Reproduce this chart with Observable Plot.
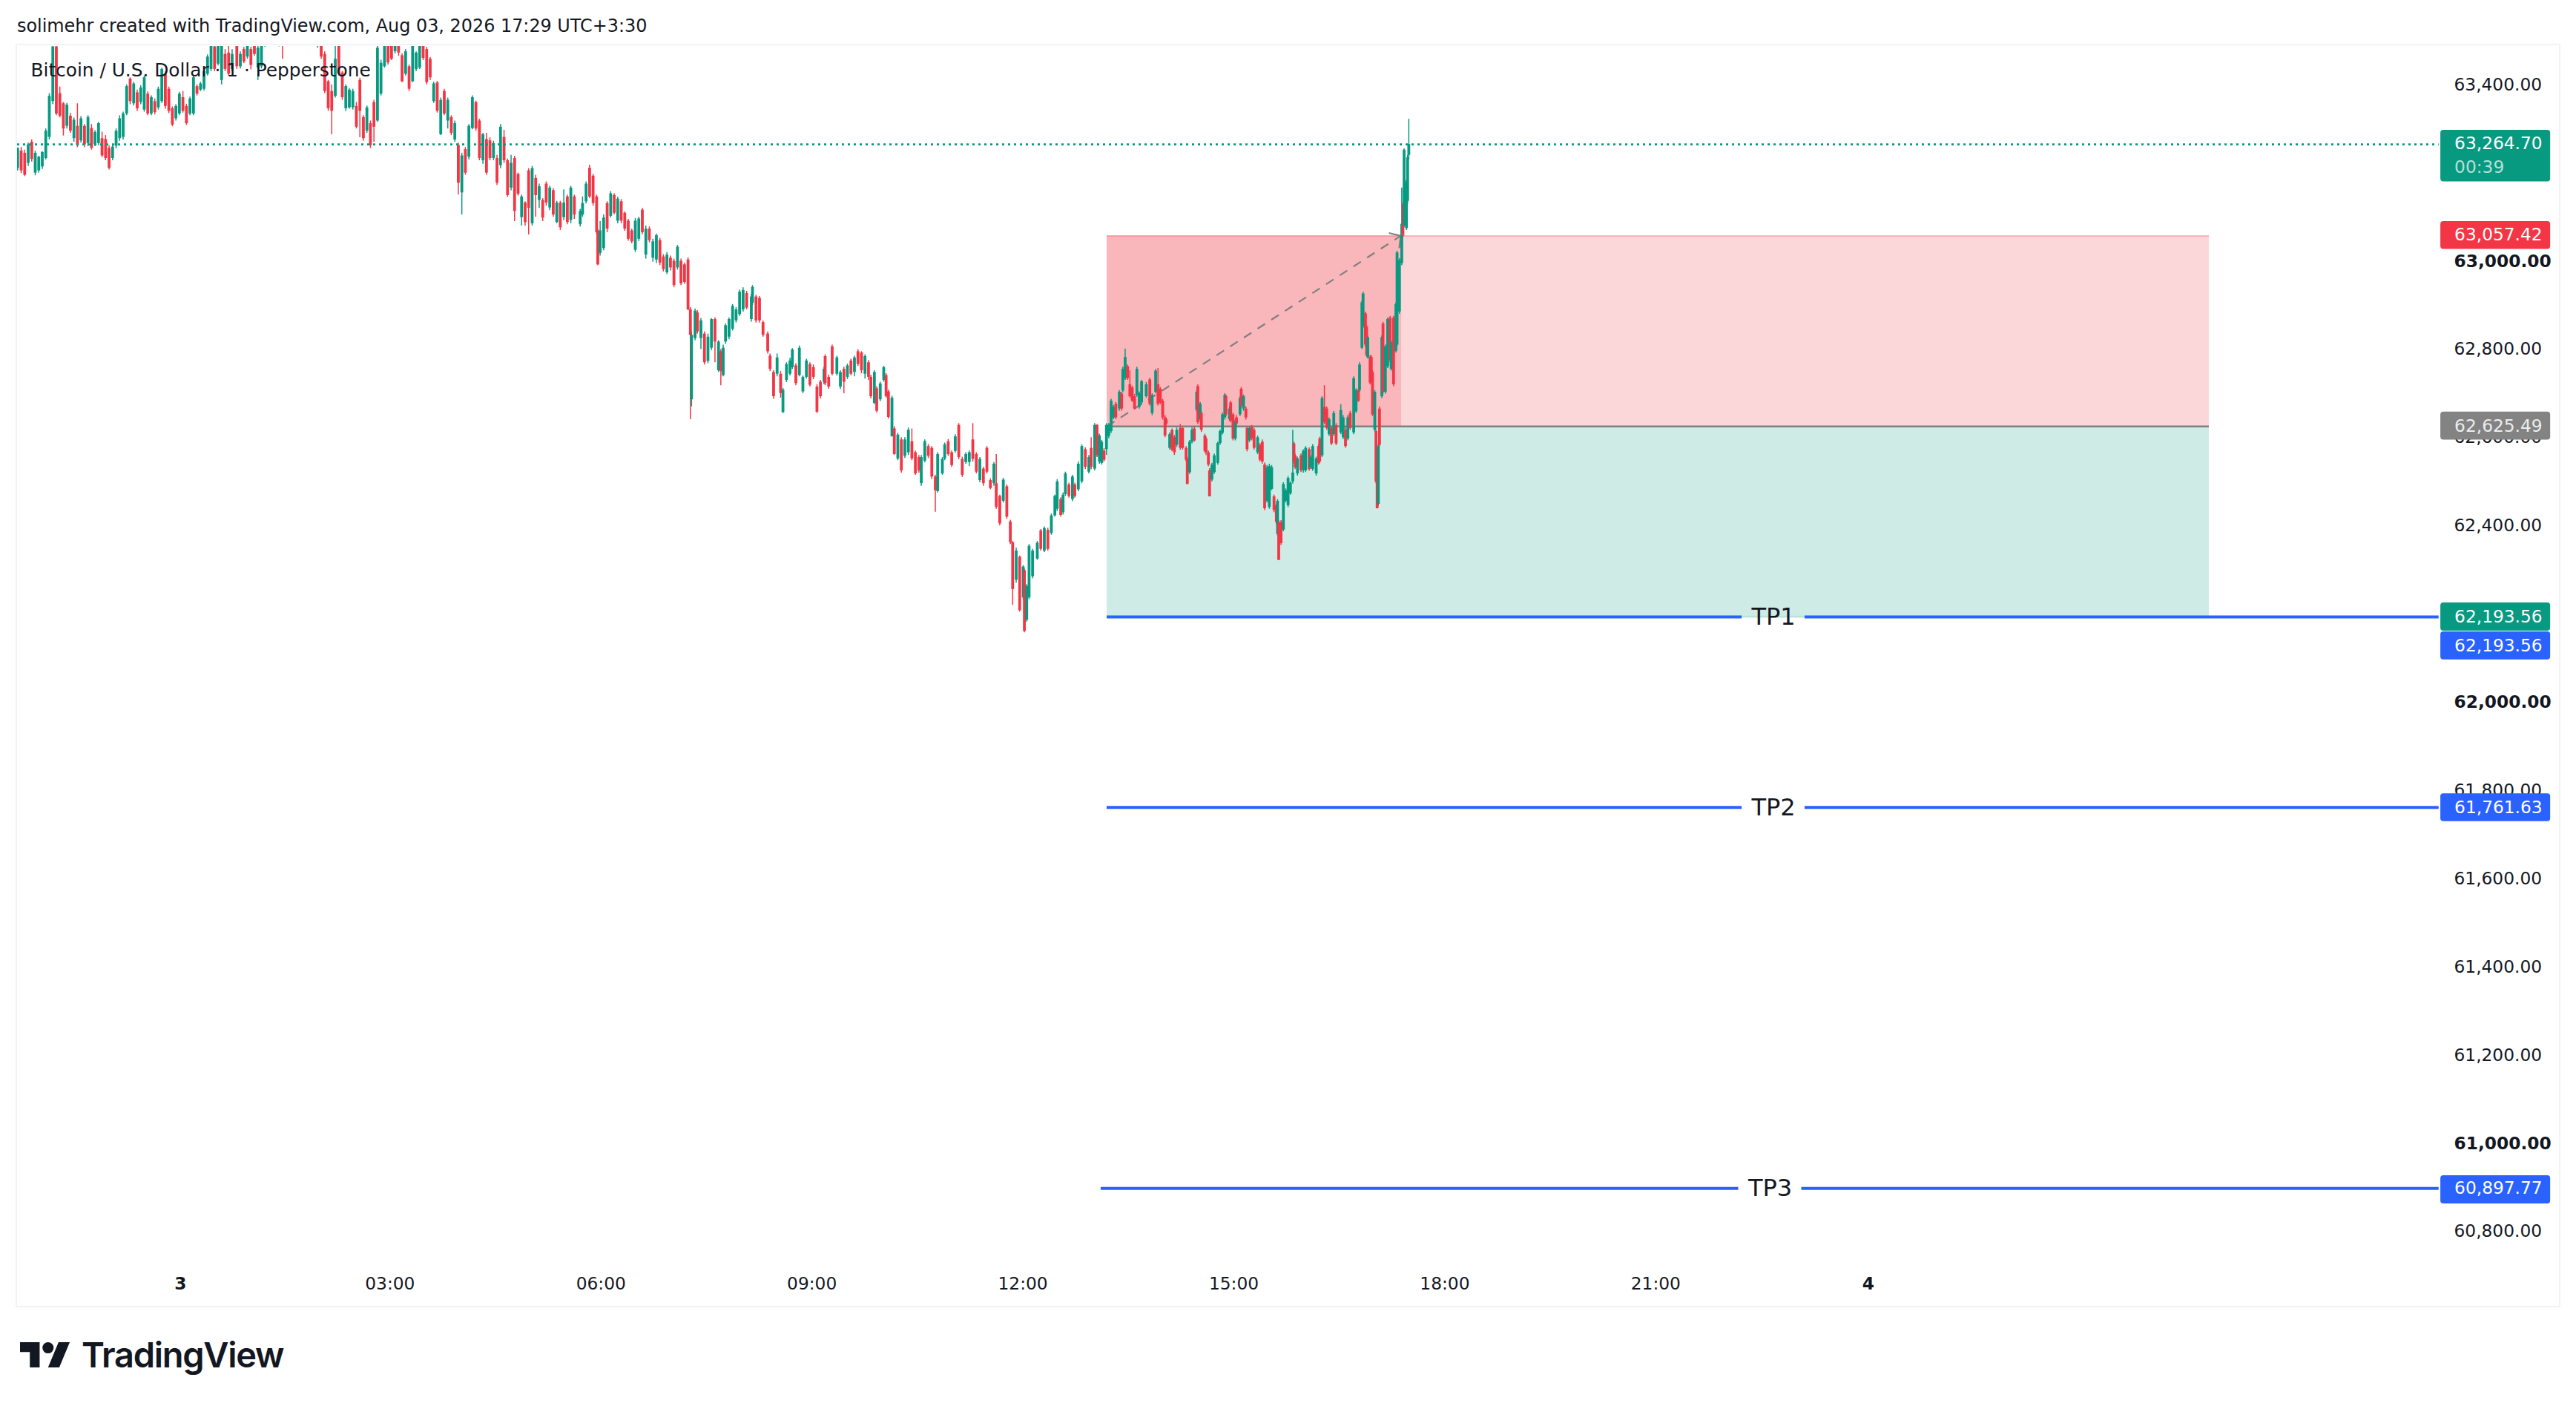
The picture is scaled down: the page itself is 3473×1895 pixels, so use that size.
<!DOCTYPE html>
<html>
<head>
<meta charset="utf-8">
<script src="https://cdn.jsdelivr.net/npm/d3@7"></script>
<script src="https://cdn.jsdelivr.net/npm/@observablehq/plot@0.6"></script>
<style>
html,body{margin:0;padding:0;background:#fff;width:3473px;height:1895px;overflow:hidden;font-family:"DejaVu Sans",sans-serif;color:#131722}
#head{height:60px;box-sizing:border-box;padding-left:23px;font-size:23.9px;line-height:70px;white-space:nowrap}
#box{position:absolute;left:21px;top:59px;width:3427px;height:1699px;border:2px solid #f2f3f4;pointer-events:none}
#foot{position:absolute;left:27px;top:1809px;display:flex;align-items:flex-start}
#foot span{font-family:"Inter",sans-serif;font-weight:600;font-size:47px;line-height:34px;letter-spacing:-1.3px;margin-left:15px;color:#131722}
</style>
</head>
<body>
<div id="head">solimehr created with TradingView.com, Aug 03, 2026 17:29 UTC+3:30</div>
<div id="chart"></div>
<div id="box"></div>
<div id="foot"><svg width="68" height="34" viewBox="0 4 36 18"><path fill="#131722" d="M14 22H7V11H0V4h14v18zM28 22h-8l7.5-18h8L28 22z"/><circle fill="#131722" cx="20" cy="8" r="4"/></svg><span>TradingView</span></div>
<script>
// Candles: [open, close, high, low], one every three minutes, minutes counted from Aug 3 00:00
const nightStart = -139;
const nightBars = [
[63211,63256,63257,63205],[63250,63205,63258,63199],[63245,63195,63252,63192],[63222,63264,63268,63215],[63270,63231,63275,63225],[63200,63245,63250,63194],[63205,63236,63238,63200],[63214,63247,63248,63208],[63233,63295,63300,63230],[63281,63374,63380,63275],
[63362,63486,63495,63355],[63486,63334,63495,63330],[63380,63329,63395,63325],[63357,63300,63360,63284],[63306,63354,63358,63300],[63329,63295,63335,63290],[63278,63320,63325,63270],[63306,63262,63357,63258],[63273,63323,63328,63268],[63306,63264,63310,63258],
[63267,63326,63330,63260],[63301,63256,63310,63252],[63264,63292,63296,63260],[63267,63312,63315,63262],[63278,63239,63293,63235],[63276,63233,63285,63228],[63256,63211,63262,63207],[63233,63259,63262,63228],[63261,63295,63300,63255],[63278,63323,63330,63272],
[63281,63334,63338,63275],[63334,63396,63400,63330],[63413,63362,63416,63355],[63357,63402,63406,63352],[63382,63346,63388,63340],[63360,63393,63398,63355],[63343,63416,63420,63338],[63379,63334,63384,63330],[63334,63371,63375,63330],[63362,63337,63368,63332],
[63348,63390,63395,63343],[63362,63435,63438,63358],[63424,63351,63430,63345],[63390,63340,63395,63335],[63346,63309,63350,63305],[63323,63351,63355,63318],[63334,63379,63383,63330],[63371,63340,63385,63336],[63351,63312,63356,63308],[63334,63368,63372,63330],
[63334,63416,63420,63330],[63396,63379,63400,63375],[63388,63402,63406,63385],[63390,63430,63434,63386],[63424,63463,63468,63420],[63435,63489,63495,63430],[63486,63435,63495,63430],[63447,63489,63495,63443],[63410,63489,63495,63400],[63469,63435,63480,63430],
[63472,63424,63490,63420],[63435,63469,63480,63430]
];
const earlyStart = 48;
const earlyBars = [
[63489,63441,63495,63435],[63441,63469,63475,63436],[63480,63452,63485,63448],[63463,63489,63495,63458],[63480,63444,63485,63434],[63495,63469,63500,63465],[63438,63483,63488,63410],[63441,63489,63495,63436],[63490,63510,63520,63485],[63510,63530,63540,63500],
[63530,63520,63545,63510],[63520,63505,63530,63495],[63495,63515,63525,63486],[63520,63500,63530,63458],[63500,63530,63540,63495],[63530,63550,63565,63520],[63550,63535,63570,63525],[63535,63555,63570,63525],[63555,63540,63575,63530],[63540,63525,63555,63515],
[63525,63545,63555,63515],[63545,63520,63550,63510],[63520,63505,63530,63495],[63489,63510,63515,63483],[63489,63463,63495,63458],[63469,63385,63475,63380],[63407,63346,63410,63340],[63385,63340,63400,63287],[63374,63458,63489,63370],[63489,63424,63495,63420],
[63427,63371,63430,63365],[63346,63396,63400,63340],[63348,63388,63392,63345],[63348,63385,63390,63343],[63351,63304,63360,63300],[63410,63340,63415,63280],[63326,63278,63330,63272],[63295,63348,63352,63290],[63312,63262,63318,63256],[63360,63304,63365,63270],
[63318,63483,63490,63315],[63379,63449,63456,63375],[63441,63489,63495,63438],[63489,63450,63495,63445],[63495,63458,63500,63455],[63475,63495,63510,63470],[63495,63472,63505,63465],[63466,63407,63470,63405],[63424,63475,63480,63420],[63441,63390,63445,63385],
[63407,63489,63495,63405],[63435,63472,63475,63430],[63438,63489,63495,63435],[63489,63460,63495,63455],[63480,63405,63485,63400],[63458,63416,63462,63410],[63362,63402,63406,63358]
];
const morningStart = 219;
const morningBars = [
[63404,63340,63408,63336],[63287,63365,63370,63285],[63385,63334,63390,63330],[63318,63365,63370,63300],[63326,63290,63330,63285],[63275,63312,63318,63270],[63263,63177,63268,63150],[63155,63239,63245,63105],[63253,63200,63258,63195],[63236,63306,63310,63230],
[63301,63371,63375,63298],[63360,63300,63363,63295],[63318,63233,63322,63228],[63228,63287,63290,63220],[63276,63200,63290,63195],[63273,63233,63280,63228],[63233,63267,63272,63228],[63233,63177,63240,63172],[63217,63304,63310,63210],[63281,63228,63297,63222],
[63228,63149,63232,63145],[63166,63222,63240,63160],[63233,63113,63238,63090],[63197,63152,63200,63148],[63099,63146,63150,63080],[63132,63088,63135,63080],[63205,63120,63210,63060],[63085,63210,63215,63080],[63188,63149,63195,63100],[63138,63169,63175,63120],
[63138,63098,63142,63090],[63175,63132,63180,63125],[63121,63166,63170,63115],[63160,63105,63165,63100],[63088,63132,63136,63085],[63132,63076,63136,63070],[63099,63132,63162,63092],[63146,63088,63150,63083],[63093,63166,63170,63085],[63146,63105,63150,63095]
];
// Later candles: [minute, open, close, high, low]
const middayBars = [
[341,63083,63113,63118,63078],[343,63105,63131,63146,63100],[346,63135,63175,63180,63130],[349,63211,63146,63218,63142],[352,63193,63131,63197,63125],[355,63146,63065,63150,63060],[356,63069,62992,63073,62990],[358,63018,63069,63090,63012],[361,63029,63098,63105,63024],[364,63131,63073,63135,63065],
[367,63102,63153,63158,63098],[370,63149,63109,63153,63105],[373,63091,63141,63145,63085],[376,63135,63091,63140,63085],[379,63109,63073,63112,63068],[382,63091,63050,63095,63046],[385,63069,63044,63073,63040],[388,63025,63091,63097,63020],[391,63050,63096,63100,63045],[394,63116,63065,63120,63060],
[397,63014,63073,63080,63005],[400,63073,63047,63078,63042],[403,63007,63044,63050,62998],[406,63003,63058,63062,62995],[409,63047,62996,63052,62990],[412,63010,62981,63015,62976],[415,62974,63014,63020,62970],[418,63007,62985,63012,62978],[421,63000,62945,63005,62940],[424,62985,63032,63036,62980],
[427,63000,62949,63005,62945],[430,62992,62952,62996,62948],[433,63003,62890,63008,62888],[435,62890,62832,62895,62641],[436,62686,62832,62840,62670],[439,62825,62887,62892,62820],[441,62883,62840,62888,62835],[444,62825,62865,62870,62800],[447,62835,62770,62840,62765],[450,62773,62828,62835,62768],
[453,62803,62868,62870,62798],[456,62868,62817,62872,62770],[459,62752,62817,62820,62748],[461,62795,62750,62800,62718],[463,62741,62803,62810,62738],[465,62817,62854,62858,62812],[468,62828,62868,62872,62822],[471,62846,62898,62902,62842],[474,62865,62890,62895,62860],[477,62879,62930,62935,62875],
[480,62890,62934,62940,62885],[483,62927,62894,62932,62890],[487,62868,62919,62925,62862],[488,62905,62941,62945,62900],[491,62919,62865,62923,62860],[494,62916,62865,62920,62860],[497,62861,62832,62865,62828],[501,62835,62795,62840,62790],[503,62785,62755,62790,62750],[506,62748,62693,62752,62687],
[509,62744,62781,62790,62738],[512,62744,62700,62750,62690],[514,62657,62708,62712,62655],[517,62730,62766,62770,62725],[520,62744,62774,62780,62740],[522,62759,62799,62802,62755],[525,62763,62723,62768,62718],[528,62741,62803,62808,62738],[531,62704,62737,62740,62700],[534,62737,62774,62778,62733],
[537,62766,62719,62770,62715],[540,62759,62737,62765,62732],[543,62715,62658,62720,62655],[546,62726,62693,62730,62688],[549,62726,62755,62760,62720],[550,62784,62723,62788,62718],[553,62737,62715,62742,62710],[556,62806,62744,62810,62740],[560,62744,62781,62785,62740],[563,62715,62748,62752,62710],
[566,62755,62726,62760,62700],[569,62737,62763,62767,62732],[572,62774,62744,62778,62740],[575,62748,62781,62785,62738],[578,62795,62766,62800,62762],[581,62792,62752,62795,62745],[584,62744,62784,62788,62733],[587,62770,62737,62775,62730],[589,62737,62693,62742,62688],[592,62678,62748,62752,62675],
[594,62711,62660,62716,62656],[597,62686,62722,62726,62682],[600,62730,62759,62762,62726],[602,62741,62693,62745,62690],[604,62704,62646,62708,62642],[607,62602,62690,62694,62602],[609,62620,62562,62625,62560],[612,62552,62606,62610,62548],[615,62595,62525,62600,62520],[618,62558,62595,62600,62553],
[621,62566,62617,62622,62560],[624,62591,62552,62620,62548],[627,62566,62518,62570,62515],[630,62555,62525,62560,62520],[632,62496,62555,62560,62490],[635,62547,62591,62595,62543],[638,62580,62558,62585,62553],[641,62576,62511,62580,62505],[644,62511,62480,62515,62431],[646,62478,62562,62566,62475],
[650,62518,62551,62555,62515],[652,62552,62584,62588,62548],[655,62591,62562,62596,62558],[658,62566,62537,62570,62533],[661,62569,62602,62607,62565],[664,62628,62555,62632,62550],[667,62551,62515,62556,62510],[670,62544,62562,62566,62540],[673,62544,62566,62570,62535],[676,62595,62551,62632,62545],
[679,62562,62522,62566,62518],[682,62503,62551,62555,62498],[685,62529,62496,62533,62490],[688,62576,62522,62580,62518],[691,62503,62485,62507,62482],[694,62496,62540,62544,62490],[696,62496,62442,62562,62438],[699,62467,62405,62470,62400],[702,62456,62504,62508,62452],[705,62489,62420,62493,62415],
[708,62409,62362,62413,62358],[710,62362,62256,62365,62220],[713,62277,62343,62350,62270],[716,62329,62208,62332,62205],[719,62237,62307,62310,62232],[720,62299,62161,62302,62158],[722,62186,62263,62267,62182],[724,62237,62354,62358,62233],[727,62285,62343,62347,62280],[731,62325,62361,62365,62322],
[734,62389,62347,62392,62343],[737,62343,62394,62398,62340],[740,62390,62347,62395,62343],[743,62383,62423,62427,62379],[746,62423,62467,62470,62420],[748,62438,62500,62505,62433],[751,62460,62424,62464,62420],[753,62430,62470,62475,62425],[755,62471,62518,62522,62467],[758,62493,62467,62497,62463],
[761,62460,62511,62515,62455],[763,62493,62467,62497,62463],[766,62482,62540,62545,62478],[769,62500,62580,62584,62496],[772,62573,62533,62577,62528],[775,62522,62555,62560,62518],[777,62576,62533,62600,62528],[780,62529,62628,62632,62525]
];
const afternoonBars = [
[782,62628,62559,62630,62555],[784,62545,62604,62608,62540],[786,62542,62590,62594,62538],[788,62570,62549,62575,62545],[790,62573,62628,62632,62560],[792,62603,62628,62632,62598],[794,62614,62683,62687,62610],[796,62645,62669,62673,62641],[798,62676,62645,62680,62641],[801,62665,62703,62707,62660],
[803,62699,62665,62703,62660],[804,62706,62755,62760,62702],[806,62734,62782,62801,62730],[808,62761,62734,62765,62730],[810,62720,62693,62752,62690],[812,62713,62683,62717,62680],[814,62693,62665,62698,62663],[816,62696,62755,62760,62692],[818,62669,62700,62704,62665],[820,62679,62727,62730,62675],
[824,62693,62720,62725,62690],[827,62731,62676,62735,62672],[829,62655,62696,62700,62650],[832,62703,62751,62755,62700],[834,62720,62676,62757,62672],[836,62710,62679,62714,62675],[838,62683,62645,62687,62640],[840,62645,62604,62650,62600],[841,62641,62631,62645,62626],[844,62576,62607,62611,62572],
[846,62617,62572,62620,62568],[848,62600,62566,62605,62560],[850,62583,62617,62622,62578],[853,62621,62576,62630,62572],[855,62621,62576,62625,62572],[858,62576,62549,62580,62545],[859,62552,62494,62556,62494],[861,62521,62590,62594,62517],[863,62590,62617,62622,62586],[865,62620,62593,62625,62590],
[867,62662,62703,62708,62658],[868,62716,62634,62720,62630],[870,62641,62676,62680,62637],[871,62655,62617,62660,62612],[874,62604,62569,62608,62565],[875,62597,62566,62601,62560],[877,62566,62538,62570,62534],[878,62525,62466,62530,62466],[880,62504,62538,62542,62500],[882,62521,62559,62563,62517],
[885,62542,62587,62590,62538],[887,62587,62614,62618,62583],[889,62610,62652,62656,62606],[891,62645,62696,62700,62640],[892,62693,62652,62697,62648],[895,62641,62665,62670,62637],[896,62679,62638,62683,62634],[898,62652,62597,62656,62593],[900,62597,62638,62642,62593],[901,62645,62631,62650,62627],
[904,62652,62689,62693,62648],[905,62710,62672,62714,62668],[907,62665,62693,62697,62660],[909,62665,62645,62670,62640],[910,62621,62573,62625,62568],[912,62593,62621,62625,62589],[914,62624,62597,62628,62593],[916,62617,62576,62621,62572],[919,62566,62600,62604,62562],[921,62583,62549,62587,62545],
[923,62590,62545,62595,62540],[925,62538,62439,62543,62435],[927,62456,62532,62537,62452],[929,62442,62535,62540,62438],[931,62483,62532,62537,62480],[933,62466,62435,62470,62430],[935,62446,62408,62450,62403],[936,62381,62456,62460,62377],[937,62408,62322,62412,62322],[939,62408,62360,62412,62356],
[941,62391,62494,62498,62387],[943,62456,62480,62484,62452],[945,62446,62508,62512,62442],[947,62473,62497,62500,62470],[949,62500,62520,62617,62495],[950,62586,62545,62590,62540],[951,62559,62532,62563,62528],[953,62518,62552,62556,62513],[956,62559,62525,62563,62521],[958,62525,62569,62573,62520],
[960,62525,62576,62580,62521],[963,62573,62528,62577,62524],[964,62532,62556,62560,62528],[966,62528,62580,62584,62524],[969,62518,62552,62556,62513],[971,62580,62542,62584,62538],[972,62597,62545,62601,62541],[974,62559,62689,62693,62555],[976,62669,62634,62718,62630],[978,62665,62621,62670,62617],
[980,62607,62641,62645,62603],[982,62621,62586,62625,62582],[984,62607,62655,62660,62603],[986,62627,62586,62632,62582],[990,62611,62662,62675,62607],[992,62600,62645,62650,62596],[994,62617,62580,62625,62576],[996,62597,62645,62650,62593],[998,62655,62621,62660,62617],[1001,62611,62734,62738,62607],
[1003,62659,62707,62711,62655],[1005,62707,62683,62711,62680],[1006,62707,62765,62770,62703],[1008,62803,62906,62910,62800],[1009,62851,62926,62930,62848],[1011,62881,62810,62885,62805],[1012,62851,62786,62855,62782],[1013,62782,62827,62831,62778],[1015,62782,62724,62786,62720],[1016,62782,62734,62786,62730],
[1017,62748,62652,62752,62648],[1019,62617,62703,62707,62613],[1020,62614,62500,62618,62496],[1021,62559,62439,62563,62439],[1022,62449,62580,62585,62445],[1023,62665,62583,62670,62579],[1025,62693,62827,62831,62689],[1026,62858,62703,62862,62699],[1028,62703,62806,62810,62699],[1030,62761,62868,62872,62757],
[1032,62871,62775,62875,62770],[1033,62755,62816,62820,62751],[1035,62871,62720,62875,62716],[1037,62796,62902,62906,62792],[1038,62810,63019,63023,62806],[1040,62885,63002,63006,62880],[1042,62995,63084,63166,62990],[1043,63129,63057,63133,63053],[1044,63080,63252,63255,63076],[1046,63074,63180,63184,63070],
[1047,63136,63235,63240,63130],[1048,63240,63264.7,63322,63230]
];

// Price levels of the position and its targets
const lastPrice = 63264.70;
const stopPrice = 63057.42;
const entryPrice = 62625.49;
const tp1Price = 62193.56;
const tp2Price = 61761.63;
const tp3Price = 60897.77;

// Time window of the drawings, minutes from Aug 3 00:00
const viewStart = -139.2, viewEnd = 1927.8;
const zoneStart = 790.5, zoneEnd = 1731, filledEnd = 1041.8;
const lineEnd = 1927;
const arrowTip = 1041.1;
const badgeStart = 1928.5, badgeEnd = 2022.2;

// Axis ticks
const priceTicks = [60800,61200,61400,61600,61800,62400,62600,62800,63400];
const priceMajorTicks = [61000,62000,63000];
const hourTicks = [180,360,540,720,900,1080,1260];
const hourLabels = ["03:00","06:00","09:00","12:00","15:00","18:00","21:00"];
const dayTicks = [0,1440];
const dayLabels = ["3","4"];

// Price tags on the right scale: text, text price, tag top price, tag bottom price, fill
const tags = [
  {text:"62,625.49", p:62626, top:62658, bottom:62594.6, fill:"#838383", ink:"#ececec"},
  {text:"63,264.70", p:63266, top:63297, bottom:63180, fill:"#089981", ink:"#ffffff"},
  {text:"00:39", p:63213, top:null, bottom:null, fill:null, ink:"#b5e0d8"},
  {text:"63,057.42", p:63059, top:63090, bottom:63027, fill:"#f23645", ink:"#ffffff"},
  {text:"62,193.56", p:62194, top:62225.4, bottom:62161.5, fill:"#089981", ink:"#ffffff"},
  {text:"62,193.56", p:62128, top:62159.8, bottom:62096.5, fill:"#2962ff", ink:"#ffffff"},
  {text:"61,761.63", p:61762, top:61793, bottom:61729.8, fill:"#2962ff", ink:"#ffffff"},
  {text:"60,897.77", p:60898, top:60927, bottom:60863, fill:"#2962ff", ink:"#ffffff"}
];

// Target lines with the gap left for their label
const targets = [
  {name:"TP1", price:tp1Price, start:zoneStart, gapStart:1332.3, gapEnd:1386, mid:1359.2},
  {name:"TP2", price:tp2Price, start:zoneStart, gapStart:1332.3, gapEnd:1386, mid:1359.2},
  {name:"TP3", price:tp3Price, start:785.4, gapStart:1329.4, gapEnd:1383.2, mid:1356.3}
];

const row3 = start => (b,i) => ({t:start+3*i,o:b[0],c:b[1],h:b[2],l:b[3]});
const row5 = b => ({t:b[0],o:b[1],c:b[2],h:b[3],l:b[4]});
const candles = [
  ...nightBars.map(row3(nightStart)),
  ...earlyBars.map(row3(earlyStart)),
  ...morningBars.map(row3(morningStart)),
  ...middayBars.map(row5),
  ...afternoonBars.map(row5)
];
const colorOf = d => d.c >= d.o ? "#089981" : "#f23645";
const fmt = d3.format(",.2f");
const segments = targets.flatMap(d => [
  {x1:d.start, x2:d.gapStart, y:d.price},
  {x1:d.gapEnd, x2:lineEnd, y:d.price}
]);

const chart = Plot.plot({
  width: 3473, height: 1706,
  marginTop: 2, marginBottom: 64, marginLeft: 23, marginRight: 184,
  x: {domain: [viewStart, viewEnd], axis: null},
  y: {domain: [60728.5, 63487], axis: null},
  style: {background:"#fff", color:"#131722", fontFamily:"'DejaVu Sans',sans-serif", fontSize:"23.3px", overflow:"visible"},
  marks: [
    // position zones
    Plot.rect([{x1:zoneStart,x2:zoneEnd,y1:entryPrice,y2:stopPrice},{x1:zoneStart,x2:filledEnd,y1:entryPrice,y2:stopPrice}],
      {x1:"x1",x2:"x2",y1:"y1",y2:"y2",fill:"#f23645",fillOpacity:0.2}),
    Plot.rect([{x1:zoneStart,x2:zoneEnd,y1:tp1Price,y2:entryPrice}],
      {x1:"x1",x2:"x2",y1:"y1",y2:"y2",fill:"#089981",fillOpacity:0.2}),
    Plot.ruleY([stopPrice],{x1:zoneStart,x2:zoneEnd,stroke:"#f23645",strokeOpacity:0.25,strokeWidth:2}),
    Plot.ruleY([tp1Price],{x1:zoneStart,x2:zoneEnd,stroke:"#089981",strokeOpacity:0.25,strokeWidth:2}),
    Plot.ruleY([entryPrice],{x1:zoneStart,x2:zoneEnd,stroke:"#808080",strokeWidth:2.4}),
    // trade path
    Plot.link([{x1:zoneStart,y1:entryPrice,x2:arrowTip,y2:stopPrice}],
      {x1:"x1",y1:"y1",x2:"x2",y2:"y2",stroke:"#808080",strokeWidth:2.2,strokeDasharray:"12,10"}),
    Plot.line([[1031.6,63063.6],[arrowTip,stopPrice],[1039.9,63031]],{stroke:"#808080",strokeWidth:2.2}),
    // candles
    Plot.ruleX(candles,{x:"t",y1:"l",y2:"h",stroke:colorOf,strokeWidth:1.5,clip:"frame"}),
    Plot.ruleX(candles,{x:"t",y1:"o",y2:"c",stroke:colorOf,strokeWidth:3.8,clip:"frame"}),
    // last price
    Plot.ruleY([lastPrice],{x1:viewStart,x2:lineEnd,stroke:"#089981",strokeWidth:2.6,strokeDasharray:"3,5"}),
    // targets
    Plot.ruleY(segments,{x1:"x1",x2:"x2",y:"y",stroke:"#2962ff",strokeWidth:4}),
    Plot.text(targets,{x:"mid",y:"price",text:"name",fontSize:32,fill:"#131722"}),
    // symbol title
    Plot.text(["Bitcoin / U.S. Dollar · 1 · Pepperstone"],{frameAnchor:"top-left",dx:18,dy:23,textAnchor:"start",lineAnchor:"top",fontSize:24.8,fill:"#131722"}),
    // axes
    Plot.axisY(priceTicks,{anchor:"right",tickSize:0,tickPadding:19,tickFormat:fmt,fontSize:23.3}),
    Plot.axisY(priceMajorTicks,{anchor:"right",tickSize:0,tickPadding:19,tickFormat:fmt,fontSize:23.3,fontWeight:700}),
    Plot.axisX(hourTicks,{anchor:"bottom",tickSize:0,tickPadding:19,tickFormat:d=>hourLabels[hourTicks.indexOf(d)],fontSize:23.3,dx:-2}),
    Plot.axisX(dayTicks,{anchor:"bottom",tickSize:0,tickPadding:19,tickFormat:d=>dayLabels[dayTicks.indexOf(d)],fontSize:23.3,fontWeight:700}),
    // price tags
    Plot.rect(tags.filter(d=>d.fill),{x1:()=>badgeStart,x2:()=>badgeEnd,y1:"bottom",y2:"top",fill:"fill",rx:4}),
    Plot.text(tags,{x:()=>badgeStart,y:"p",text:"text",fill:"ink",dx:18.5,textAnchor:"start",fontSize:23.3})
  ]
});
document.getElementById("chart").append(chart);
</script>
</body>
</html>
